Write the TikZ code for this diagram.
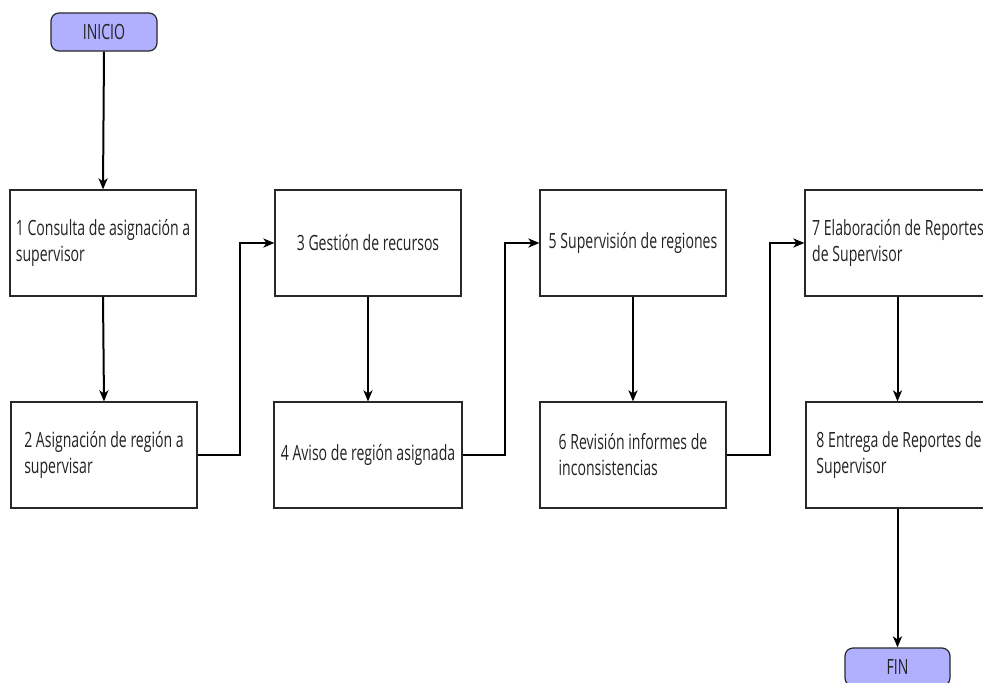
\documentclass[tikz,border=0pt]{standalone}
\usepackage{fontspec}
\setmainfont[FakeStretch=0.67]{Open Sans}
\usetikzlibrary{arrows.meta}
\definecolor{term}{RGB}{176,176,255}
\definecolor{edge}{RGB}{40,40,40}
\definecolor{txt}{RGB}{35,35,35}
\tikzset{
  stepbox/.style={draw=edge, line width=1.2pt, fill=white, rectangle, inner sep=0pt,
    minimum width=186pt, minimum height=106pt, align=left, text=txt,
    font=\fontsize{21}{26}\selectfont},
  termbox/.style={draw=edge, line width=1.2pt, fill=term, rectangle, rounded corners=8pt,
    inner sep=0pt, minimum width=106pt, minimum height=38pt, text=txt,
    font=\fontsize{21}{26}\selectfont},
  flow/.style={draw=black, line width=2pt, -{Stealth[length=11pt,width=9pt,inset=3pt]}}
}
\begin{document}
\begin{tikzpicture}[x=1pt,y=-1pt]
\useasboundingbox (0,0) rectangle (983,683);
\clip (0,0) rectangle (983,683);
\node[termbox] (ini) at (104,32) {INICIO};
\node[stepbox] (b1) at (103,243) {1 Consulta de asignación a\\supervisor};
\node[stepbox] (b2) at (104,455) {2 Asignación de región a\\supervisar};
\node[stepbox] (b3) at (368,243) {3 Gestión de recursos};
\node[stepbox, minimum width=188pt] (b4) at (368,455) {4 Aviso de región asignada};
\node[stepbox] (b5) at (633,243) {5 Supervisión de regiones};
\node[stepbox] (b6) at (633,455) {6 Revisión informes de\\inconsistencias};
\node[stepbox] (b7) at (898,243) {7 Elaboración de Reportes\\de Supervisor};
\node[stepbox] (b8) at (899,455) {8 Entrega de Reportes de\\Supervisor};
\node[termbox, minimum width=105pt] (fin) at (897.5,667) {FIN};
\coordinate (j2) at (240,455);
\coordinate (j4) at (505,455);
\coordinate (j6) at (770,455);
\draw[flow] (ini.south) -- (b1.north);
\draw[flow] (b1.south) -- (b2.north);
\draw[flow] (b2.east) -- (j2) |- (b3.west);
\draw[flow] (b3.south) -- (b4.north);
\draw[flow] (b4.east) -- (j4) |- (b5.west);
\draw[flow] (b5.south) -- (b6.north);
\draw[flow] (b6.east) -- (j6) |- (b7.west);
\draw[flow] (b7.south -| fin.north) -- (b8.north -| fin.north);
\draw[flow] (b8.south -| fin.north) -- (fin.north);
\end{tikzpicture}
\end{document}
